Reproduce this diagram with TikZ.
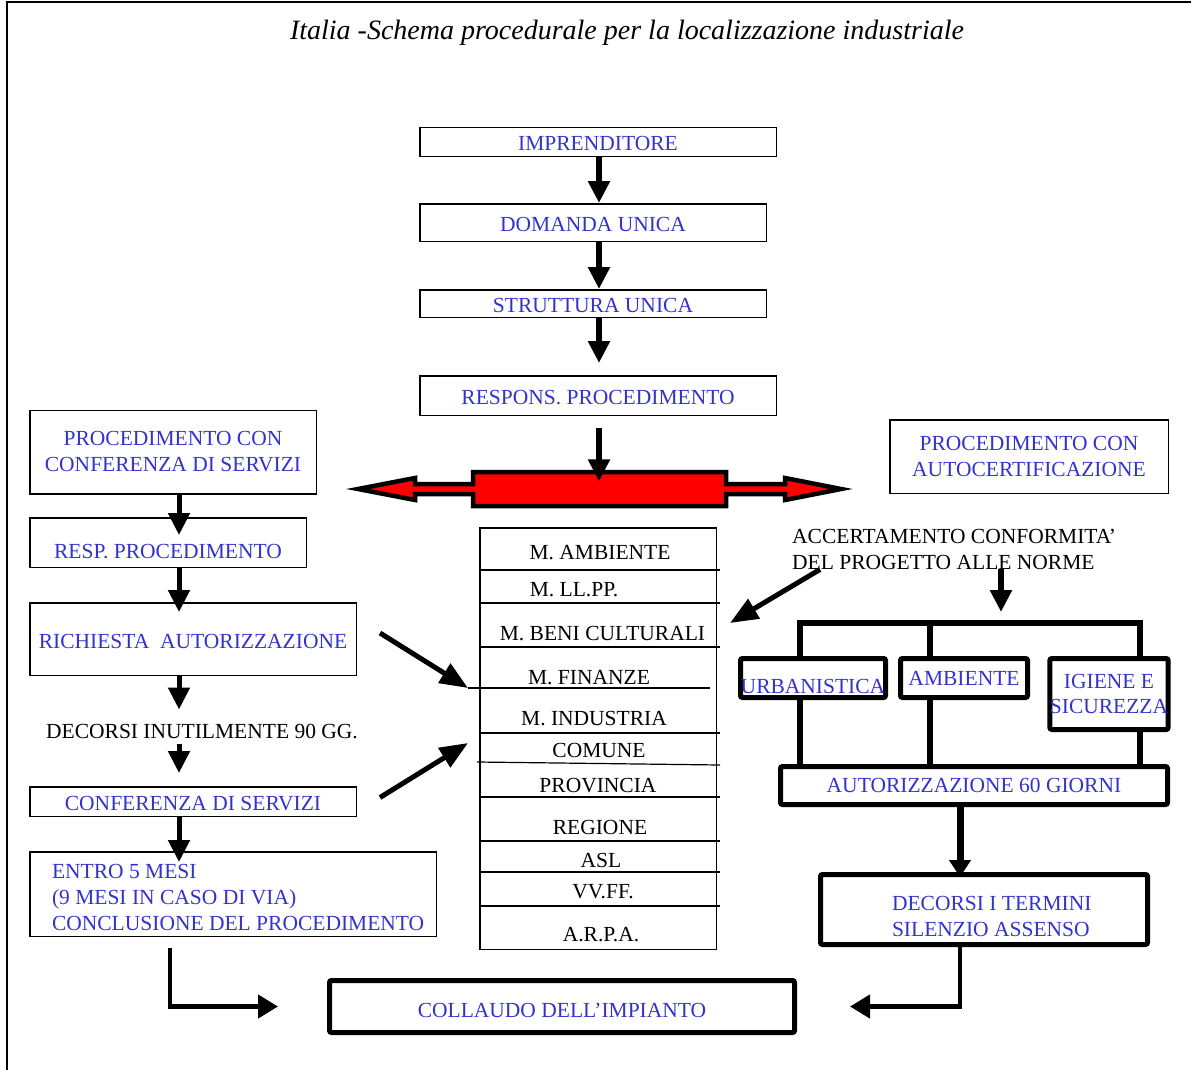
\documentclass[tikz,border=0pt]{standalone}
\usepackage{fontspec}
\setmainfont{Liberation Serif}
\usetikzlibrary{arrows.meta}
\definecolor{tblue}{RGB}{51,51,204}
\newcommand\lowr[2]{\raisebox{-#1}[\height][\depth]{#2}}
\begin{document}
\begin{tikzpicture}[x=1pt,y=-1pt,
  txt/.style={font=\fontsize{21.5}{26}\selectfont, inner sep=0pt},
  bx/.style={txt, draw, line width=1.5pt, text=tblue},
  tb/.style={txt, draw, line width=5pt, rounded corners=2pt, text=tblue},
  arr/.style={line width=6pt, -{Triangle[width=21pt,length=22pt]}},
  arrL/.style={line width=5pt, -{Triangle[width=21pt,length=22pt]}},
  arrR/.style={line width=7pt, -{Triangle[width=21pt,length=17pt]}},
  diag/.style={line width=5pt, -{Triangle[width=22pt,length=28pt]}},
  leg/.style={line width=6.5pt},
  bot/.style={line width=4.5pt, -{Triangle[width=23pt,length=20pt]}},
  divl/.style={line width=1.2pt}
]
\useasboundingbox (0,0) rectangle (1191,1070);
% frame
\draw[line width=2.5pt] (7,2) -- (1191,2);
\draw[line width=1.5pt] (7,1) -- (7,1070);

% title
\node[font=\fontsize{28}{32}\selectfont\itshape, inner sep=0pt, anchor=base] (title) at (627,40)
  {Italia -Schema procedurale per la localizzazione industriale};

% central column
\node[bx, minimum width=356.5pt, minimum height=28.5pt] (imp) at (598,142) {\lowr{1.5pt}{IMPRENDITORE}};
\node[bx, minimum width=346.5pt, minimum height=37.5pt] (dom) at (593,222.5) {\lowr{2pt}{DOMANDA UNICA}};
\node[bx, minimum width=346.5pt, minimum height=27.5pt] (str) at (593,303.5) {\lowr{2pt}{STRUTTURA UNICA}};
\node[bx, minimum width=356.5pt, minimum height=39.5pt] (resp) at (598,395.5) {\lowr{2pt}{RESPONS. PROCEDIMENTO}};

% red double arrow bar
\node[minimum width=253pt, minimum height=35pt, inner sep=0pt] (bar) at (599,489) {};
\draw[line width=4.5pt, fill=red, line join=miter, miter limit=10]
  (358,489) -- (415,478) -- (415,484) -- (473,484) -- (473,472) -- (726,472) -- (726,484)
  -- (785,484) -- (785,478) -- (841,489) -- (785,500) -- (785,494) -- (726,494) -- (726,506)
  -- (473,506) -- (473,494) -- (415,494) -- (415,500) -- cycle;

\coordinate (cx) at (599,0);
\draw[arr] (imp.south -| cx) -- (dom.north -| cx);
\draw[arr] (dom.south -| cx) -- (str.north -| cx);
\draw[arr, shorten >=12pt] (str.south -| cx) -- (resp.north -| cx);
\draw[arr, shorten <=12pt, shorten >=-10pt] (resp.south -| cx) -- (bar.north -| cx);

% left column
\node[bx, minimum width=286.5pt, minimum height=83.5pt, align=center] (pcs) at (173,452)
  {PROCEDIMENTO CON\\CONFERENZA DI SERVIZI};
\node[bx, minimum width=276.5pt, minimum height=49.5pt] (rpr) at (168,542.5)
  {\lowr{9.5pt}{RESP. PROCEDIMENTO}};
\node[bx, minimum width=326.5pt, minimum height=72.5pt] (ric) at (193,639)
  {\lowr{2pt}{RICHIESTA\ \ AUTORIZZAZIONE}};
\node[txt] (d90) at (202,731) {DECORSI INUTILMENTE 90 GG.};
\node[bx, minimum width=326.5pt, minimum height=29.5pt] (conf) at (193,801.5)
  {\lowr{2.5pt}{CONFERENZA DI SERVIZI}};
\node[bx, minimum width=406.5pt, minimum height=84.5pt] (entro) at (233,894)
  {\makebox[362pt][l]{\lowr{5pt}{\begin{tabular}{@{}l@{}}ENTRO 5 MESI\\(9 MESI IN CASO DI VIA)\\CONCLUSIONE DEL PROCEDIMENTO\end{tabular}}}};

\coordinate (cl) at (179,0);
\draw[arrL, shorten >=-18pt] (pcs.south -| cl) -- (rpr.north -| cl);
\draw[arrL, shorten >=-10pt] (rpr.south -| cl) -- (ric.north -| cl);
\draw[arrL, shorten >=14pt] (ric.south -| cl) -- (d90.north -| cl);
\draw[arrL, shorten <=5pt, shorten >=13pt] (d90.south -| cl) -- (conf.north -| cl);
\draw[arrL, shorten >=-11pt] (conf.south -| cl) -- (entro.north -| cl);

% list of offices
\node[draw, line width=1.5pt, minimum width=236.5pt, minimum height=421.5pt, inner sep=0pt] (lst) at (598,738.5) {};
\draw[divl] (479,570) -- (720,570);
\draw[divl] (479,603) -- (720,603);
\draw[divl] (479,647) -- (720,647);
\draw[divl] (468,688) -- (710,688);
\draw[divl] (479,733) -- (720,733);
\draw[divl] (477,762) -- (720,765);
\draw[divl] (479,797) -- (720,797);
\draw[divl] (479,841) -- (720,841);
\draw[divl] (479,872) -- (720,872);
\draw[divl] (479,906) -- (720,906);
\node[txt] (l1) at (600,552.5) {M. AMBIENTE};
\node[txt] (l2) at (574,589.5) {M. LL.PP.};
\node[txt] (l3) at (602.5,633.5) {M. BENI CULTURALI};
\node[txt] (l4) at (589,677.5) {M. FINANZE};
\node[txt] (l5) at (594,719) {M. INDUSTRIA};
\node[txt] (l6) at (599,750.5) {COMUNE};
\node[txt] (l7) at (598,786) {PROVINCIA};
\node[txt] (l8) at (600,827) {REGIONE};
\node[txt] (l9) at (601,860.5) {ASL};
\node[txt] (l10) at (603,892) {VV.FF.};
\node[txt] (l11) at (601,934.5) {A.R.P.A.};

\coordinate (t1) at (730,623);
\coordinate (t2) at (468,688);
\coordinate (t3) at (468,743);
\draw[diag] ([shift={(23pt,6pt)}]ric.east) -- (t2);
\draw[diag] ([shift={(23pt,4pt)}]conf.east) -- (t3);

% right side
\node[bx, minimum width=278.5pt, minimum height=73.5pt, align=center] (auto) at (1029,456.5)
  {PROCEDIMENTO CON\\AUTOCERTIFICAZIONE};
\node[txt, anchor=west, align=left] (acc) at (792,549)
  {ACCERTAMENTO CONFORMITA’\\DEL PROGETTO ALLE NORME};
\draw[diag] ([xshift=28pt]acc.south west) -- (t1);

\node[tb, minimum width=145pt, minimum height=39pt] (urb) at (813,678) {\lowr{8.5pt}{URBANISTICA}};
\node[tb, minimum width=127pt, minimum height=39pt] (amb) at (964,678) {AMBIENTE};
\node[tb, minimum width=117pt, minimum height=71pt, align=center,
  font=\fontsize{21.5}{25}\selectfont] (ig) at (1109,694) {IGIENE E\\SICUREZZA};
\node[tb, minimum width=387pt, minimum height=38pt] (aut) at (974,785.5) {AUTORIZZAZIONE 60 GIORNI};
\node[tb, minimum width=327pt, minimum height=70pt] (dec) at (984,909.5)
  {\makebox[184pt][l]{\lowr{9pt}{\begin{tabular}{@{}l@{}}DECORSI I TERMINI\\SILENZIO ASSENSO\end{tabular}}}};
\node[tb, minimum width=465pt, minimum height=52pt] (coll) at (562,1006.5)
  {\lowr{3.5pt}{COLLAUDO DELL’IMPIANTO}};

\coordinate (bL) at (800,623);
\coordinate (bM) at (930,623);
\coordinate (bR) at (1140,623);
\coordinate (bT) at (1001,612);
\draw[arr] (acc.south -| bT) -- (bT);
\draw[leg] (urb.north -| bL) -- (bL) -- (bR) -- (ig.north -| bR);
\draw[leg] (bM) -- (amb.north -| bM);
\draw[leg] (urb.south -| bL) -- (aut.north -| bL);
\draw[leg] (amb.south -| bM) -- (aut.north -| bM);
\draw[leg] (ig.south -| bR) -- (aut.north -| bR);

\coordinate (c960) at (960,0);
\coordinate (c170) at (170,0);
\draw[arrR, shorten >=-5pt] (aut.south -| c960) -- (dec.north -| c960);
\draw[bot, shorten <=11pt, shorten >=49pt] (entro.south -| c170) |- (coll.west);
\draw[bot, shorten >=53pt] (dec.south -| c960) |- (coll.east);
\end{tikzpicture}
\end{document}
